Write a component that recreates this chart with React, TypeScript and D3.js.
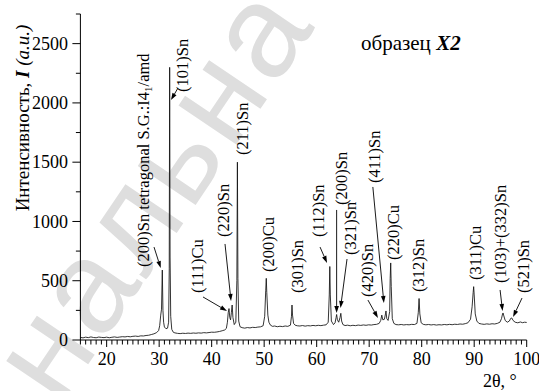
import React from 'react';
import * as d3 from 'd3';

const W = 539;
const H = 391;

// Diffraction profile: 2θ (degrees) and intensity (a.u.)
const twoTheta = [
  15.0, 15.5, 16.0, 16.5, 17.0, 17.5, 18.0, 18.5, 19.0, 19.5, 20.0, 20.5, 21.0, 21.5, 22.0, 22.5,
  23.0, 23.5, 24.0, 24.5, 25.0, 25.5, 26.0, 26.5, 27.0, 27.5, 28.0, 28.5, 29.0, 29.5, 29.9,
  30.1, 30.3, 30.45, 30.6, 30.72, 30.85, 31.0, 31.3, 31.6, 31.8, 31.92, 32.0, 32.08, 32.2, 32.4, 32.7,
  33.0, 33.5, 34.0, 34.5, 35.0, 35.5, 36.0, 36.5, 37.0, 37.5, 38.0, 38.5, 39.0, 39.5, 40.0, 40.5,
  41.0, 41.5, 42.0, 42.5, 42.8, 43.0, 43.15, 43.3, 43.45, 43.6, 43.75, 43.9, 44.05, 44.3, 44.6,
  44.8, 44.9, 45.0, 45.15, 45.4, 45.8, 46.3, 46.8, 47.3, 47.8, 48.3, 48.8, 49.3, 49.8,
  50.1, 50.3, 50.4, 50.5, 50.7, 50.9, 51.2, 51.6, 52.0, 52.5, 53.0, 53.5, 54.0, 54.5,
  55.0, 55.2, 55.3, 55.4, 55.6, 55.9, 56.3, 56.8, 57.3, 57.8, 58.3, 58.8, 59.3, 59.8, 60.3, 60.8,
  61.3, 61.8, 62.2, 62.4, 62.5, 62.6, 62.8, 63.2, 63.5, 63.7, 63.8, 63.95, 64.2, 64.45, 64.6, 64.75,
  65.0, 65.4, 65.9, 66.4, 66.9, 67.4, 67.9, 68.4, 68.9, 69.4, 69.9, 70.4, 70.9, 71.4, 71.9,
  72.2, 72.4, 72.6, 72.9, 73.1, 73.2, 73.35, 73.6, 73.9, 74.0, 74.1, 74.2, 74.4, 74.7,
  75.1, 75.6, 76.1, 76.6, 77.1, 77.6, 78.1, 78.6, 79.1, 79.35, 79.5, 79.65, 79.9,
  80.3, 80.8, 81.3, 81.8, 82.3, 82.8, 83.3, 83.8, 84.3, 84.8, 85.3, 85.8, 86.3, 86.8, 87.3, 87.8,
  88.3, 88.8, 89.3, 89.6, 89.8, 89.9, 90.0, 90.2, 90.5, 90.9, 91.4, 91.9, 92.4, 92.9, 93.4, 93.9,
  94.4, 94.9, 95.2, 95.4, 95.5, 95.6, 95.9, 96.3, 96.7, 96.95, 97.15, 97.4, 97.8, 98.3, 98.8,
  99.2, 99.6, 100.0,
];
const intensity = [
  22, 18, 24, 20, 26, 21, 19, 25, 22, 20, 24, 19, 23, 26, 22, 25,
  28, 26, 30, 27, 31, 33, 30, 35, 34, 38, 40, 46, 52, 62, 80,
  120, 210, 260, 590, 250, 150, 110, 95, 100, 150, 600, 2300, 700, 200, 90, 65,
  60, 56, 54, 57, 55, 58, 56, 59, 57, 60, 58, 62, 60, 63, 66, 65,
  68, 72, 78, 85, 98, 150, 230, 265, 190, 170, 230, 295, 190, 130, 150,
  500, 1500, 520, 160, 112, 104, 100, 105, 102, 107, 105, 109, 111, 120,
  200, 420, 520, 400, 210, 150, 125, 115, 118, 112, 116, 113, 118, 115,
  125, 200, 295, 210, 140, 125, 120, 118, 122, 117, 121, 119, 123, 120, 124, 121,
  125, 128, 150, 380, 620, 380, 160, 130, 145, 190, 215, 170, 150, 190, 225, 160,
  130, 122, 125, 120, 124, 121, 126, 123, 127, 124, 128, 126, 130, 132, 140,
  165, 210, 170, 175, 220, 245, 180, 165, 240, 520, 650, 450, 180, 140,
  130, 128, 131, 127, 130, 128, 132, 130, 140, 230, 350, 220, 145,
  132, 128, 131, 127, 130, 126, 129, 127, 131, 128, 132, 129, 133, 131, 135, 133,
  138, 145, 175, 280, 400, 450, 380, 220, 160, 140, 135, 132, 136, 133, 137, 135,
  140, 150, 180, 220, 228, 210, 165, 150, 160, 182, 186, 165, 150, 145, 152,
  146, 150, 148,
];

// Axis ticks
const xMajorTicks = [20, 30, 40, 50, 60, 70, 80, 90, 100];
const yMajorTicks = [0, 500, 1000, 1500, 2000, 2500];

// Reflection labels: text, anchor 2θ, anchor intensity (start of the rotated text)
const labelText = [
  '(200)Sn', '(101)Sn', '(111)Cu', '(220)Sn', '(211)Sn', '(200)Cu', '(301)Sn', '(112)Sn',
  '(200)Sn', '(321)Sn', '(420)Sn', '(411)Sn', '(220)Cu', '(312)Sn', '(311)Cu', '(103)+(332)Sn', '(521)Sn',
];
const labelTheta = [26.92, 34.37, 37.25, 42.16, 45.78, 50.7, 56.24, 60.26, 64.63, 66.35, 69.6, 70.93, 74.52, 79.29, 90.15, 94.91, 99.29];
const labelIntensity = [616, 2092, 396, 869, 1560, 574, 396, 869, 1139, 717, 363, 1324, 675, 405, 506, 481, 396];

// Pointer arrows: tail and head in (2θ, intensity)
const arrowTailTheta = [29.02, 33.59, 38.35, 42.54, 60.64, 63.8, 65.78, 69.76, 70.7, 94.93, 99.11];
const arrowTailI = [784, 2126, 363, 810, 784, 1097, 683, 337, 1291, 422, 354];
const arrowHeadTheta = [30.3, 32.25, 42.92, 43.69, 61.97, 63.8, 64.54, 71.67, 72.8, 95.4, 97.4];
const arrowHeadI = [607, 2024, 245, 329, 650, 228, 270, 186, 312, 245, 194];

const serif = '"Liberation Serif", "Times New Roman", serif';

export default function App() {
  const x = d3.scaleLinear().domain([15, 100]).range([80.4, 526.7]);
  const y = d3.scaleLinear().domain([0, 2750]).range([340, 14]);

  const line = d3
    .line<number>()
    .x((_, i) => x(twoTheta[i]))
    .y((d) => y(d));

  const xMinor = d3.range(15, 101, 1);
  const yMinor = d3.range(0, 2751, 250);

  const arrows = arrowTailTheta.map((t, i) => {
    const x1 = x(t), y1 = y(arrowTailI[i]);
    const x2 = x(arrowHeadTheta[i]), y2 = y(arrowHeadI[i]);
    const ang = Math.atan2(y2 - y1, x2 - x1);
    const len = 7, half = 2.3;
    const bx = x2 - len * Math.cos(ang), by = y2 - len * Math.sin(ang);
    const px = -Math.sin(ang) * half, py = Math.cos(ang) * half;
    return { x1, y1, bx, by, x2, y2, px, py };
  });

  return (
    <svg
      width={W}
      height={H}
      viewBox={`0 0 ${W} ${H}`}
      style={{ position: 'absolute', left: 0, top: 0, background: '#fff' }}
    >
      <rect width={W} height={H} fill="#fff" />
      {/* background watermark */}
      <g transform="translate(150 190) rotate(-56)">
        <text
          x={0}
          y={0}
          dy="0.35em"
          textAnchor="middle"
          fontFamily='"Liberation Sans", Arial, sans-serif'
          fontSize={132}
          letterSpacing={4}
          fill="#dedede"
        >
          нальна
        </text>
      </g>

      {/* profile */}
      <path d={line(intensity) ?? ''} fill="none" stroke="#111" strokeWidth={0.85} />

      {/* axes */}
      <g stroke="#000" strokeWidth={1}>
        <line x1={x(15)} x2={x(100)} y1={y(0)} y2={y(0)} />
        <line x1={x(15)} x2={x(15)} y1={y(0)} y2={y(2750)} />
        {xMinor.map((t) => (
          <line key={'xm' + t} x1={x(t)} x2={x(t)} y1={y(0)} y2={y(0) + (t % 10 === 0 ? 7 : 4.5)} />
        ))}
        {yMinor.map((v) => (
          <line key={'ym' + v} x1={x(15) - (v % 500 === 0 ? 8 : 4.5)} x2={x(15)} y1={y(v)} y2={y(v)} />
        ))}
      </g>
      <g fontSize={18} fill="#000" fontFamily={serif}>
        {xMajorTicks.map((t) => (
          <text key={'xl' + t} x={x(t)} y={365} textAnchor="middle">
            {t}
          </text>
        ))}
        {yMajorTicks.map((v) => (
          <text key={'yl' + v} x={68} y={y(v)} dy="0.35em" textAnchor="end">
            {v}
          </text>
        ))}
      </g>

      {/* axis titles */}
      <g fontFamily={serif} fill="#000">
        <text x={22} y={118} transform="rotate(-90 22 118)" textAnchor="middle" dy="0.35em" fontSize={19}>
          Интенсивность, <tspan fontWeight="bold" fontStyle="italic">I</tspan>{' '}
          <tspan fontStyle="italic">(a.u.)</tspan>
        </text>
        <text x={483} y={387} fontSize={18}>
          2θ, °
        </text>
        <text x={361} y={50} fontSize={21}>
          образец <tspan fontWeight="bold" fontStyle="italic">X2</tspan>
        </text>
      </g>

      {/* reflection labels */}
      <g fontSize={16.5} fill="#000" fontFamily={serif}>
        {labelText.map((s, i) => {
          const lx = x(labelTheta[i]);
          const ly = y(labelIntensity[i]);
          return (
            <text key={'lb' + i} x={lx} y={ly} dy="0.35em" transform={`rotate(-90 ${lx} ${ly})`}>
              {s}
              {i === 0 ? (
                <>
                  {'  tetragonal S.G.:I4'}
                  <tspan fontSize={11} dy="0.25em">1</tspan>
                  <tspan dy="-0.17em">/amd</tspan>
                </>
              ) : null}
            </text>
          );
        })}
      </g>

      {/* pointer arrows */}
      <g stroke="#000" strokeWidth={0.9} fill="#000">
        {arrows.map((a, i) => (
          <g key={'ar' + i}>
            <line x1={a.x1} y1={a.y1} x2={a.bx} y2={a.by} />
            <path
              d={`M${a.x2},${a.y2}L${a.bx + a.px},${a.by + a.py}L${a.bx - a.px},${a.by - a.py}Z`}
              stroke="none"
            />
          </g>
        ))}
      </g>
    </svg>
  );
}
